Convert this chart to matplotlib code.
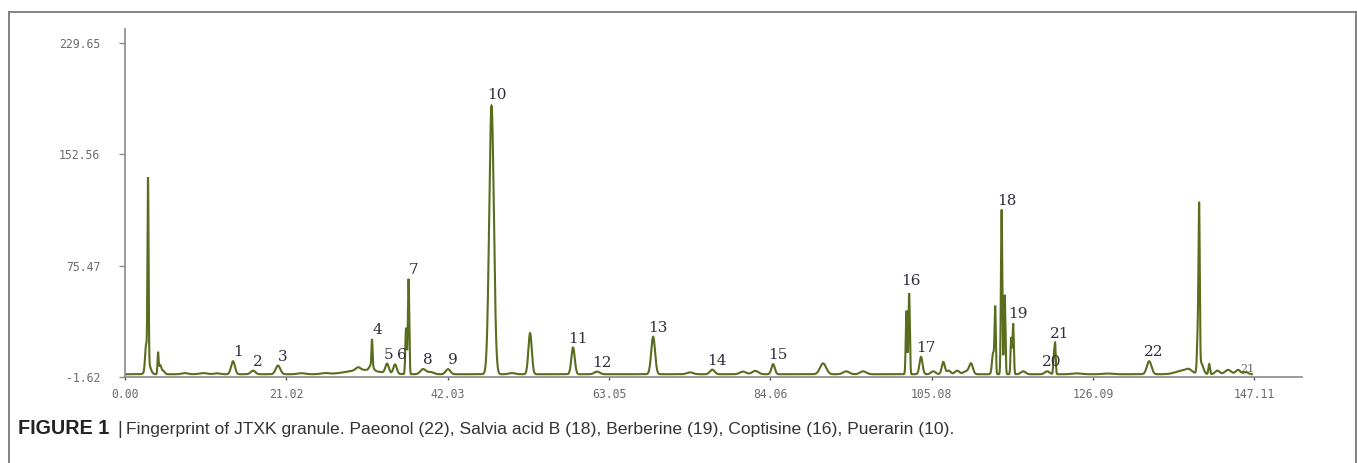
import numpy as np
import matplotlib
matplotlib.use("Agg")
import matplotlib.pyplot as plt
from matplotlib.lines import Line2D

# ---- chromatogram components: retention time (min), height, width (sigma, min), peak number
peak_rt = [2.74, 3.00, 3.00, 4.30, 4.56, 4.95, 7.8, 10.2, 12.0,
           14.07, 16.68, 19.93, 23.0, 26.0, 31.0, 30.36, 32.18, 32.1,
           34.14, 35.18, 36.61, 36.94, 38.83, 39.8, 42.08, 47.75, 50.4,
           52.77, 58.37, 61.5, 68.8, 73.6, 76.5, 80.5, 82.1, 84.43,
           90.94, 93.94, 96.16, 101.8, 102.15, 103.7, 105.3, 106.6, 107.3,
           108.4, 109.5, 110.2, 113.1, 113.36, 114.2, 114.6, 115.44, 115.7,
           117.0, 120.13, 121.0, 121.17, 124.0, 128.0, 133.42, 137.8, 138.6,
           139.75, 139.93, 140.15, 141.24, 142.3, 143.7, 145.0, 146.0]
peak_height = [15, 127, 8, 14, 6, 2.5, 0.8, 0.8, 0.6,
               9, 2.5, 6, 0.7, 0.7, 3, 2, 18, 4,
               6.5, 6.5, 32, 66, 3.5, 1.5, 3.5, 186, 0.8,
               28.5, 18.5, 1.8, 26, 1.3, 3.2, 1.8, 2.3, 7,
               7.5, 2, 2, 44, 56, 12, 2, 8.5, 2.5,
               2.5, 2, 7.5, 15, 44, 114, 55, 25, 35,
               2, 2, 12, 20.5, 0.6, 0.5, 9, 2.5, 2,
               25, 108, 8, 7, 2.5, 3, 3, 1.5]
peak_sigma = [0.12, 0.07, 0.3, 0.07, 0.15, 0.2, 0.4, 0.5, 0.4,
              0.25, 0.3, 0.3, 0.5, 0.5, 2.0, 0.3, 0.07, 0.25,
              0.22, 0.22, 0.09, 0.09, 0.35, 0.4, 0.3, 0.3, 0.4,
              0.22, 0.22, 0.35, 0.25, 0.4, 0.3, 0.4, 0.4, 0.22,
              0.4, 0.4, 0.4, 0.09, 0.09, 0.2, 0.3, 0.2, 0.25,
              0.3, 0.3, 0.25, 0.15, 0.08, 0.09, 0.09, 0.08, 0.09,
              0.3, 0.3, 0.08, 0.08, 0.6, 0.6, 0.3, 0.9, 0.4,
              0.1, 0.08, 0.3, 0.1, 0.3, 0.4, 0.3, 0.3]
peak_label = ["", "", "", "", "", "", "", "", "",
              "1", "2", "3", "", "", "", "", "4", "",
              "5", "6", "", "7", "8", "", "9", "10", "",
              "", "11", "12", "13", "", "14", "", "", "15",
              "", "", "", "", "16", "17", "", "", "",
              "", "", "", "", "", "18", "", "", "19",
              "", "20", "", "21", "", "", "22", "", "",
              "", "", "", "", "", "", "", ""]
baseline_level = 0.3
run_end = 146.8

# ---- axis ticks
x_ticks = [0.00, 21.02, 42.03, 63.05, 84.06, 105.08, 126.09, 147.11]
y_ticks = [-1.62, 75.47, 152.56, 229.65]

caption_bold = "FIGURE 1"
caption_text = ("Fingerprint of JTXK granule. Paeonol (22), Salvia acid B (18), "
                "Berberine (19), Coptisine (16), Puerarin (10).")

W, H = 1357, 463
fig = plt.figure(figsize=(W / 100, H / 100), dpi=100)
fig.patch.set_facecolor("white")

ax_l, ax_r, ax_b, ax_t = 125, 1302, 377, 29
ax = fig.add_axes([ax_l / W, (H - ax_b) / H, (ax_r - ax_l) / W, (ax_b - ax_t) / H])

t = np.arange(0.0, run_end, 0.005)
signal = np.full_like(t, baseline_level)
for rt, h, s in zip(peak_rt, peak_height, peak_sigma):
    signal += h * np.exp(-0.5 * ((t - rt) / s) ** 2)

line_color = "#5a6d1f"
ax.plot(t, signal, color=line_color, lw=1.5, solid_joinstyle="miter")

# peak numbers (crowded neighbours get a small sideways nudge)
label_kw = dict(fontsize=11, family="DejaVu Serif", color="#2e2e3c",
                ha="center", va="center", textcoords="offset pixels")
label_nudge = {"5": (1, 9), "6": (7, 9), "10": (5, 11), "16": (2, 12)}
for rt, lab in zip(peak_rt, peak_label):
    if lab:
        apex = np.interp(rt, t, signal)
        ax.annotate(lab, (rt, apex), xytext=label_nudge.get(lab, (5, 9)), **label_kw)
# faint trailing marker at the end of the run
last_apex = np.interp(peak_rt[-2], t, signal)
ax.annotate("21", (peak_rt[-2], last_apex), xytext=(9, 1),
            fontsize=8, family="DejaVu Serif", color="#666666",
            ha="center", va="center", textcoords="offset pixels")

ax.set_xlim(0, 153.33)
ax.set_ylim(-1.62, 239.3)
for side in ("top", "right"):
    ax.spines[side].set_visible(False)
for side in ("left", "bottom"):
    ax.spines[side].set_color("#8a8a8a")
    ax.spines[side].set_linewidth(1.2)

ax.set_xticks(x_ticks)
ax.set_xticklabels([f"{v:.2f}" for v in x_ticks])
ax.set_yticks(y_ticks)
ax.set_yticklabels([f"{v:.2f}" for v in y_ticks])
for lbl in ax.get_xticklabels() + ax.get_yticklabels():
    lbl.set_fontfamily("DejaVu Sans Mono")
    lbl.set_fontsize(8.3)
    lbl.set_color("#6a6a6a")
ax.tick_params(axis="y", direction="out", length=4.3, width=1.0, color="#8a8a8a", pad=13.5)
ax.tick_params(axis="x", direction="out", length=2.2, width=1.0, color="#555555", pad=5.5)

# outer panel frame (open at the bottom)
fc = "#7a7a7a"
x0, x1, y0 = 8.5 / W, 1355.5 / W, 1 - 11.5 / H
fig.add_artist(Line2D([x0, x0], [0, y0], transform=fig.transFigure, color=fc, lw=1.3))
fig.add_artist(Line2D([x0, x1], [y0, y0], transform=fig.transFigure, color=fc, lw=1.3))
fig.add_artist(Line2D([x1, x1], [y0, 0], transform=fig.transFigure, color=fc, lw=1.3))

cap_y = (H - 434) / H
fig.text(18 / W, cap_y, caption_bold, family="Liberation Sans", weight="bold",
         fontsize=14.2, color="#222222", va="baseline", ha="left")
fig.text(120 / W, cap_y, "|", family="Liberation Sans",
         fontsize=13.5, color="#333333", va="baseline", ha="center")
fig.text(126 / W, cap_y, caption_text, family="Liberation Sans",
         fontsize=12.6, color="#333333", va="baseline", ha="left")

fig.savefig("out.png", dpi=100, facecolor="white")
